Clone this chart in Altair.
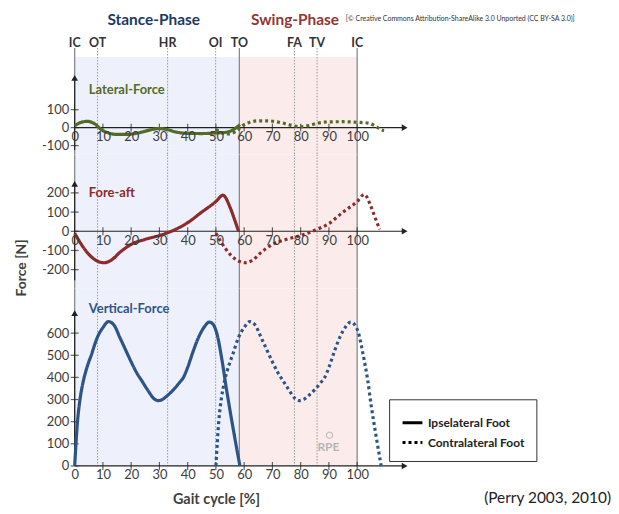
import altair as alt
import pandas as pd

# ---------------- data ----------------
x_ticks = [0, 10, 20, 30, 40, 50, 60, 70, 80, 90, 100]

event_names = ["IC", "OT", "HR", "OI", "TO", "FA", "TV", "IC"]
event_pos = [0, 8.1, 32.9, 49.9, 58.3, 77.8, 85.8, 100]
event_kind = ["solid", "dotted", "dotted", "dotted", "solid", "dotted", "dotted", "solid"]

phase_names = ["Stance-Phase", "Swing-Phase"]
phase_start = [0, 58.3]
phase_end = [58.3, 100]
phase_fill = ["#EEF0FC", "#FBECEB"]
phase_title_x = [28, 78]
phase_title_color = ["#1F3864", "#943634"]

feet = ["Ipselateral Foot", "Contralateral Foot"]

# Lateral force
lat_ipsi_x = [0, 2, 4.5, 7, 9.5, 12, 15, 18, 21, 24, 27, 30, 33, 36, 40, 45, 50, 54, 56.5, 58.5]
lat_ipsi_y = [10, 28, 35, 22, -12, -30, -38, -38, -34, -24, -12, -5, -12, -25, -32, -33, -30, -25, -8, 17]
lat_contra_x = [50, 52, 54.5, 57, 59.5, 62, 65, 68, 71, 74, 77, 80, 83, 86, 90, 95, 100, 104, 106.5, 108.5, 109.5]
lat_contra_y = [-10, -28, -35, -22, 12, 30, 38, 38, 34, 24, 12, 5, 12, 25, 32, 33, 30, 25, 8, -12, -17]

# Fore-aft force
fa_ipsi_x = [0, 2, 5, 8, 10.3, 13, 16, 20, 25, 30, 35, 40, 45, 50, 52.5, 55, 56.5, 58]
fa_ipsi_y = [-10, -60, -120, -155, -164, -150, -110, -68, -42, -22, 5, 45, 100, 155, 188, 125, 65, 0]
fa_contra_x = [50, 52, 55, 58, 60.3, 63, 66, 70, 75, 80, 85, 90, 95, 100, 102.5, 105, 106.5, 108]
fa_contra_y = [-10, -60, -120, -155, -164, -150, -110, -68, -42, -22, 5, 40, 100, 155, 192, 125, 65, 10]

# Vertical force
v_ipsi_x = [0, 1, 2, 3, 4, 5, 6, 7, 8, 10, 12, 14, 16, 18, 20, 22, 24, 26, 28, 29.5, 31, 33, 35, 37,
            38.5, 40, 42, 44, 46, 47.7, 49, 50.5, 52, 53.7, 55, 56.5, 58.5]
v_ipsi_y = [0, 200, 310, 380, 430, 470, 505, 545, 580, 625, 652, 635, 580, 525, 470, 420, 380, 340, 305, 295,
            300, 320, 345, 375, 400, 445, 520, 585, 630, 650, 640, 590, 490, 350, 250, 140, 0]
v_contra_x = [50, 51, 52, 53, 54, 55, 56, 57, 58, 60, 62, 64, 66, 68, 70, 72, 74, 76, 78, 79.5, 81, 83, 85, 87,
              88.5, 90, 92, 94, 96, 97.7, 99, 100.5, 102, 103.7, 105, 106.5, 108.5]
v_contra_y = [0, 200, 310, 380, 430, 470, 505, 545, 580, 625, 652, 635, 580, 525, 470, 420, 380, 340, 305, 295,
              300, 320, 345, 375, 400, 445, 520, 585, 630, 650, 640, 600, 510, 390, 270, 150, 0]

FONT = "Lato"
XDOM = [0, 118]


def lines_df(ix, iy, cx, cy):
    a = pd.DataFrame({"x": ix, "y": iy, "foot": feet[0]})
    b = pd.DataFrame({"x": cx, "y": cy, "foot": feet[1]})
    return pd.concat([a, b], ignore_index=True)


ev_df = pd.DataFrame({"name": event_names, "pos": event_pos, "kind": event_kind})
band_df = pd.DataFrame({"x0": phase_start, "x1": phase_end, "fill": phase_fill})


def panel(df, color, ydom, h, yvals, ybot, ytop, label, label_y, top=False, legend=None, extras=()):
    xs = alt.Scale(domain=XDOM, nice=False, zero=False)
    ys = alt.Scale(domain=ydom, nice=False, zero=False)
    y0_px = h * ydom[1] / (ydom[1] - ydom[0])
    off = -(h - y0_px)
    ax_x = alt.Axis(values=x_ticks, offset=off, domain=False, ticks=False, grid=False, title=None,
                    labelPadding=3, labelFontSize=13, labelColor="#3c3c3c", labelFont=FONT,
                    labelFlush=False, zindex=1)
    ax_y = alt.Axis(values=yvals, domain=False, ticks=False, grid=False, title=None,
                    labelPadding=6, labelFontSize=13, labelColor="#3c3c3c", labelFont=FONT,
                    labelExpr="'' + datum.value", zindex=1)

    def X(f):
        return alt.X(f, type="quantitative", scale=xs, axis=ax_x)

    def Y(f):
        return alt.Y(f, type="quantitative", scale=ys, axis=ax_y)

    rule_top = -9 if top else 0
    bands = alt.Chart(band_df).mark_rect().encode(
        x=X("x0"), x2="x1", y=alt.value(0), y2=alt.value(h),
        color=alt.Color("fill:N", scale=None))
    solid_rules = alt.Chart(ev_df).transform_filter("datum.kind == 'solid'").mark_rule(
        color="#8a8a8a", strokeWidth=1.3).encode(x=X("pos"), y=alt.value(rule_top), y2=alt.value(h))
    dot_rules = alt.Chart(ev_df).transform_filter("datum.kind == 'dotted'").mark_rule(
        color="#9a9a9a", strokeWidth=1, strokeDash=[1.5, 1.5]).encode(
        x=X("pos"), y=alt.value(rule_top), y2=alt.value(h))

    yaxis_line = alt.Chart(pd.DataFrame({"x": [0], "y1": [ybot], "y2": [ytop]})).mark_rule(
        color="#222", strokeWidth=1.2).encode(x=X("x"), y=Y("y1"), y2="y2")
    xaxis_line = alt.Chart(pd.DataFrame({"x1": [0], "x2": [116], "y": [0]})).mark_rule(
        color="#222", strokeWidth=1.2).encode(x=X("x1"), x2="x2", y=Y("y"))
    xt = alt.Chart(pd.DataFrame({"x": x_ticks[1:], "y": [0] * (len(x_ticks) - 1)})).mark_tick(
        orient="vertical", size=8, thickness=1.2, color="#222").encode(x=X("x"), y=Y("y"))
    yt = alt.Chart(pd.DataFrame({"x": [0] * len(yvals), "y": yvals})).mark_tick(
        orient="horizontal", size=8, thickness=1.2, color="#222").encode(x=X("x"), y=Y("y"))
    arr_x = alt.Chart(pd.DataFrame({"x": [116.8], "y": [0]})).mark_point(
        shape="triangle-right", filled=True, size=45, color="#222", opacity=1).encode(x=X("x"), y=Y("y"))
    arr_y = alt.Chart(pd.DataFrame({"x": [0], "y": [ytop]})).mark_point(
        shape="triangle-up", filled=True, size=45, color="#222", opacity=1).encode(x=X("x"), y=Y("y"))

    dash = alt.StrokeDash("foot:N", scale=alt.Scale(domain=feet, range=[[1, 0], [3, 3]]),
                          legend=legend)
    lines = alt.Chart(df).mark_line(strokeWidth=3.2, color=color, interpolate="monotone").encode(
        x=X("x"), y=Y("y"), strokeDash=dash, order="x:Q")

    lab = alt.Chart(pd.DataFrame({"x": [5], "y": [label_y], "t": [label]})).mark_text(
        align="left", baseline="middle", font=FONT, fontSize=13, fontWeight="bold", color=color).encode(
        x=X("x"), y=Y("y"), text="t")

    layers = [bands, solid_rules, dot_rules, yaxis_line, xaxis_line, xt, yt, arr_x, arr_y, lines, lab]
    for e in extras:
        layers.append(e(X, Y, h))
    return alt.layer(*layers).properties(width=335, height=h)


# extras for top panel
def ev_labels(X, Y, h):
    return alt.Chart(ev_df).mark_text(font=FONT, fontSize=12.5, fontWeight="bold", color="#333",
                                      baseline="middle").encode(x=X("pos"), y=alt.value(-14), text="name")


def phase_titles(X, Y, h):
    d = pd.DataFrame({"name": phase_names, "tx": phase_title_x, "c": phase_title_color})
    return alt.Chart(d).mark_text(font=FONT, fontSize=15.5, fontWeight="bold", baseline="middle").encode(
        x=X("tx"), y=alt.value(-37), text="name", color=alt.Color("c:N", scale=None))


def copyright(X, Y, h):
    d = pd.DataFrame({"x": [96],
                      "t": ["[© Creative Commons Attribution-ShareAlike 3.0 Unported (CC BY-SA 3.0)]"]})
    return alt.Chart(d).mark_text(font=FONT, fontSize=7, color="#333", align="left",
                                  baseline="middle").encode(x=X("x"), y=alt.value(-38), text="t")


def force_title(X, Y, h):
    d = pd.DataFrame({"t": ["Force [N]"]})
    return alt.Chart(d).mark_text(font=FONT, fontSize=14, fontWeight="bold", color="#404040",
                                  angle=270, baseline="middle").encode(
        x=alt.value(-53), y=alt.value(114), text="t")


def gait_title(X, Y, h):
    d = pd.DataFrame({"x": [50.2], "t": ["Gait cycle [%]"]})
    return alt.Chart(d).mark_text(font=FONT, fontSize=14.5, fontWeight="bold", color="#404040",
                                  baseline="middle").encode(x=X("x"), y=alt.value(212), text="t")


def perry(X, Y, h):
    d = pd.DataFrame({"t": ["(Perry 2003, 2010)"]})
    return alt.Chart(d).mark_text(font=FONT, fontSize=15.5, color="#222", align="right",
                                  baseline="middle").encode(x=alt.value(539), y=alt.value(210), text="t")


def rpe(X, Y, h):
    d = pd.DataFrame({"x": [89.8], "y": [87], "t": ["RPE"]})
    return alt.Chart(d).mark_text(font=FONT, fontSize=12, fontWeight="bold", color="#b5b5b5",
                                  baseline="middle").encode(x=X("x"), y=Y("y"), text="t")


def rpe_ring(X, Y, h):
    d = pd.DataFrame({"x": [90.2], "y": [139]})
    return alt.Chart(d).mark_point(shape="circle", size=40, color="#c0c0c0", strokeWidth=1.2,
                                   opacity=1).encode(x=X("x"), y=Y("y"))


legend3 = alt.Legend(orient="none", legendX=316, legendY=111, title=None, symbolType="stroke",
                     symbolStrokeColor="black", symbolStrokeWidth=3, symbolSize=400,
                     labelFont=FONT, labelFontSize=12, labelFontWeight="bold", labelColor="#222",
                     strokeColor="#333", fillColor="white", padding=12, rowPadding=2)

p1 = panel(lines_df(lat_ipsi_x, lat_ipsi_y, lat_contra_x, lat_contra_y), "#536B27",
           [-150, 394], 98, [-100, 0, 100], -125, 278, "Lateral-Force", 211, top=True,
           extras=(ev_labels, phase_titles, copyright))
p2 = panel(lines_df(fa_ipsi_x, fa_ipsi_y, fa_contra_x, fa_contra_y), "#8C2B2B",
           [-300, 400], 135, [-200, -100, 0, 100, 200], -255, 247, "Fore-aft", 200,
           extras=(force_title,))
p3 = panel(lines_df(v_ipsi_x, v_ipsi_y, v_contra_x, v_contra_y), "#2D5486",
           [0, 800], 178, [0, 100, 200, 300, 400, 500, 600], 0, 690, "Vertical-Force", 710,
           legend=legend3, extras=(gait_title, perry, rpe, rpe_ring))

chart = alt.vconcat(p1, p2, p3, spacing=0, bounds="flush").resolve_scale(
    strokeDash="independent", x="independent", y="independent").resolve_legend(
    strokeDash="independent").properties(
    padding={"left": 7, "top": 4, "right": 0, "bottom": 0}).configure_view(stroke=None)

chart.save("out.html", embed_options={"renderer": "svg", "actions": False})
